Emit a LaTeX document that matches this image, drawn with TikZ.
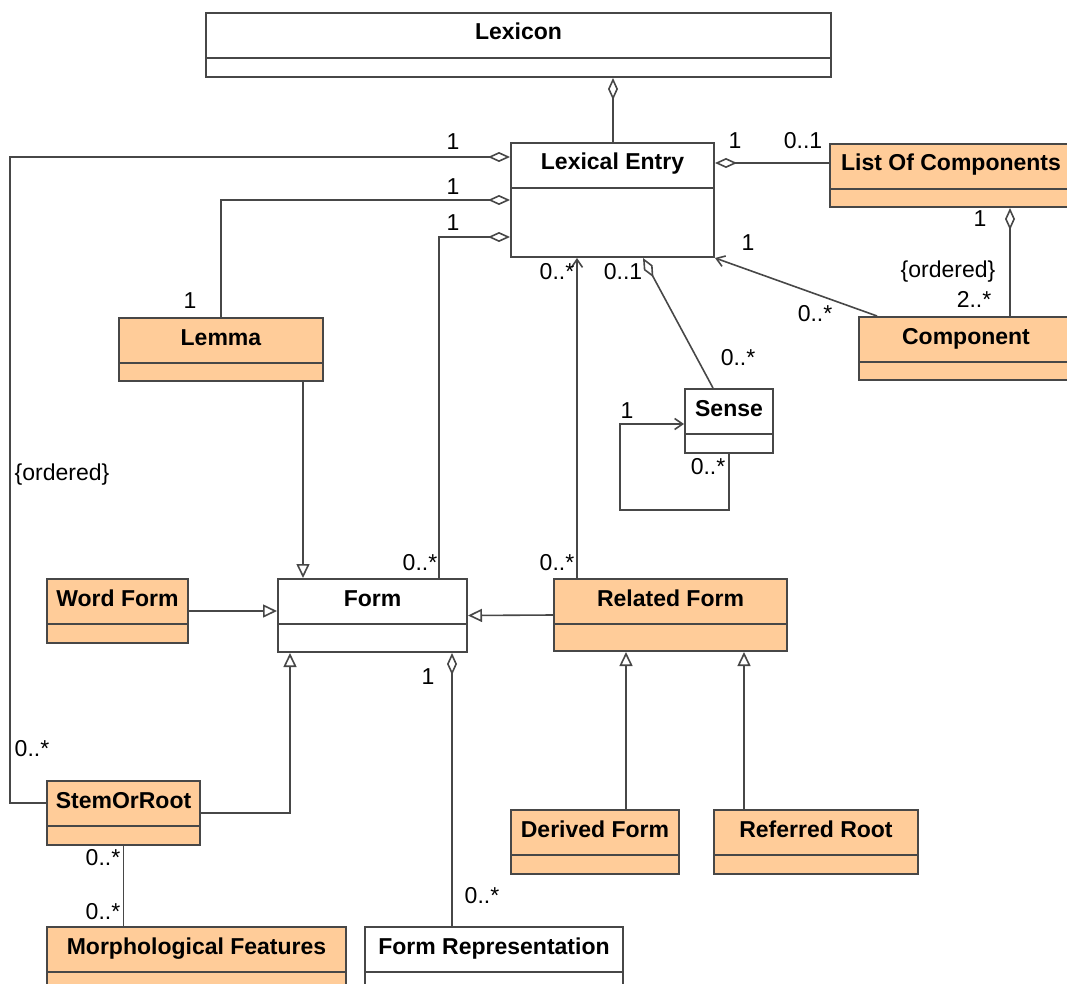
\documentclass[tikz,border=0pt]{standalone}
\usepackage{fontspec}
\setmainfont{Liberation Sans}
\usepackage{tikz}
\usetikzlibrary{shapes.multipart, arrows.meta}
\definecolor{classFill}{HTML}{FFCC99}
\definecolor{lineGray}{HTML}{474747}
\newcommand{\ctitle}[1]{\rule[-17pt]{0pt}{43pt}\textbf{#1}}
\newcommand{\cbody}[1]{\rule{0pt}{#1pt}}

\begin{document}
\begin{tikzpicture}[x=1pt,y=-1pt]
	%defines
	\tikzstyle{umlClass} = [rectangle split, rectangle split parts=2, draw=lineGray, line width=2pt, fill=white, inner sep=0pt, anchor=north west, font=\fontsize{23}{27}\selectfont]
	\tikzstyle{lexClass} = [umlClass, fill=classFill]
	\tikzstyle{mult} = [inner sep=0pt, font=\fontsize{23}{27}\selectfont]
	\tikzstyle{assoc} = [draw=lineGray, line width=1.6pt]
	\tikzstyle{aggr} = [assoc, -{Diamond[open, length=22pt, width=10pt]}]
	\tikzstyle{gen} = [assoc, -{Triangle[open, length=14pt, width=13pt]}]
	\tikzstyle{nav} = [assoc, -{Straight Barb[length=8pt, width=11pt]}]
	\useasboundingbox (0,0) rectangle (1067,984);
	%classes
	\node (lexicon) [umlClass, minimum width=625] at (205,12) {\ctitle{Lexicon}\nodepart{two}\cbody{17}};
	\node (lexEntry) [umlClass, minimum width=203] at (510,142) {\ctitle{Lexical Entry}\nodepart{two}\cbody{67}};
	\node (listComp) [lexClass, minimum width=242] at (829,143) {\ctitle{List Of Components}\nodepart{two}\cbody{16}};
	\node (component) [lexClass, minimum width=214] at (858,316) {\ctitle{Component}\nodepart{two}\cbody{16}};
	\node (lemma) [lexClass, minimum width=204] at (118,317) {\ctitle{Lemma}\nodepart{two}\cbody{16}};
	\node (sense) [umlClass, minimum width=88] at (684,388) {\ctitle{Sense}\nodepart{two}\cbody{17}};
	\node (wordForm) [lexClass, minimum width=141] at (46,578) {\ctitle{Word Form}\nodepart{two}\cbody{17}};
	\node (form) [umlClass, minimum width=189] at (277,578) {\ctitle{Form}\nodepart{two}\cbody{26}};
	\node (relForm) [lexClass, minimum width=233] at (553,578) {\ctitle{Related Form}\nodepart{two}\cbody{25}};
	\node (stemRoot) [lexClass, minimum width=153] at (46,780) {\ctitle{StemOrRoot}\nodepart{two}\cbody{17}};
	\node (derived) [lexClass, minimum width=168] at (510,809) {\ctitle{Derived Form}\nodepart{two}\cbody{17}};
	\node (referred) [lexClass, minimum width=204] at (713,809) {\ctitle{Referred Root}\nodepart{two}\cbody{17}};
	\node (morph) [lexClass, minimum width=299] at (46,926) {\ctitle{Morphological Features}\nodepart{two}\cbody{18}};
	\node (formRep) [umlClass, minimum width=258] at (364,926) {\ctitle{Form Representation}\nodepart{two}\cbody{18}};
	%links
	\draw [aggr] (lexEntry.north -| 613,0) -- (lexicon.south -| 613,0);
	\draw [aggr] (stemRoot.west |- 0,803) -| (10,157) -- (lexEntry.west |- 0,157);
	\draw [aggr] (lemma.north) |- (lexEntry.west |- 0,200);
	\draw [aggr] (form.north -| 439,0) |- (lexEntry.west |- 0,237);
	\draw [aggr] (listComp.west |- 0,163) -- (lexEntry.east |- 0,163);
	\draw [aggr] (component.north -| 1010,0) -- (listComp.south -| 1010,0);
	\draw [aggr] (sense.north -| 713,0) -- (lexEntry.south -| 643,0);
	\draw [aggr] (formRep.north -| 452,0) -- (form.south -| 452,0);
	\draw [nav] (component.north -| 877,0) -- (lexEntry.south east);
	\draw [nav] (relForm.north -| 577,0) -- (lexEntry.south -| 577,0);
	\draw [nav] (sense.south) |- (620,510) |- (sense.west |- 0,424);
	\draw [gen] (lemma.south -| 303,0) -- (form.north -| 303,0);
	\draw [gen] (wordForm.east) -- (form.west |- wordForm.east);
	\draw [gen] (relForm.west) -- (form.east);
	\draw [gen] (stemRoot.east) -| (form.south -| 290,0);
	\draw [gen] (derived.north -| 626,0) -- (relForm.south -| 626,0);
	\draw [gen] (referred.north -| 744,0) -- (relForm.south -| 744,0);
	\draw [assoc] (stemRoot.south) -- (morph.north -| stemRoot.south);
	%multiplicities
	\node (mEntryStem) [mult] at (453,142) {1};
	\node (mStemOrd) [mult] at (62,475) {\{ordered\}};
	\node (mStemEntry) [mult] at (32,749) {0..*};
	\node (mEntryLemma) [mult] at (453,187) {1};
	\node (mLemmaEntry) [mult] at (190,301) {1};
	\node (mEntryForm) [mult] at (453,223) {1};
	\node (mFormEntry) [mult] at (420,563) {0..*};
	\node (mRelEntry) [mult] at (557,563) {0..*};
	\node (mEntryRel) [mult] at (557,272) {0..*};
	\node (mEntrySense) [mult] at (623,272) {0..1};
	\node (mSenseEntry) [mult] at (738,358) {0..*};
	\node (mSenseSelfA) [mult] at (627,411) {1};
	\node (mSenseSelfB) [mult] at (708,467) {0..*};
	\node (mEntryComp) [mult] at (748,243) {1};
	\node (mCompEntry) [mult] at (815,314) {0..*};
	\node (mEntryList) [mult] at (735,141) {1};
	\node (mListEntry) [mult] at (803,141) {0..1};
	\node (mListComp) [mult] at (980,219) {1};
	\node (mCompOrd) [mult] at (948,272) {\{ordered\}};
	\node (mCompList) [mult] at (974,299) {2..*};
	\node (mFormRep) [mult] at (428,677) {1};
	\node (mRepForm) [mult] at (482,896) {0..*};
	\node (mStemMorph) [mult] at (103,858) {0..*};
	\node (mMorphStem) [mult] at (103,912) {0..*};
\end{tikzpicture}
\end{document}
